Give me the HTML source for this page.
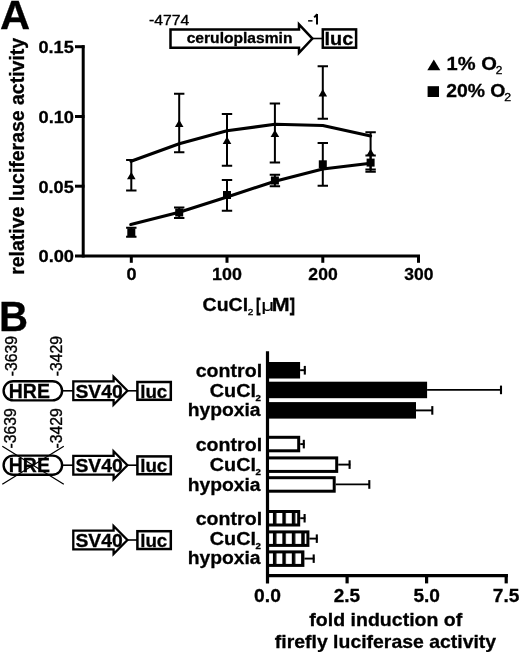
<!DOCTYPE html>
<html><head><meta charset="utf-8"><style>
html,body{margin:0;padding:0;background:#fff;}
svg{display:block;filter:grayscale(1);}
text{font-family:'Liberation Sans',sans-serif;fill:#000;font-kerning:none;}
.b{font-weight:bold;stroke:#000;stroke-width:0.3px;}
.r{font-weight:normal;stroke:#000;stroke-width:0.35px;}
</style></head><body>
<svg width="520" height="652" viewBox="0 0 520 652">
<rect width="520" height="652" fill="#fff"/>
<text x="-0.04" y="29.20" textLength="30.14" lengthAdjust="spacingAndGlyphs" class="b" style="font-size:41.0px">A</text>
<text transform="translate(24.00,274.78) rotate(-90)" x="0" y="0" textLength="236.89" lengthAdjust="spacingAndGlyphs" class="b" style="font-size:19.8px">relative luciferase activity</text>
<g stroke="#000" stroke-width="3" fill="none" stroke-linecap="butt">
<path d="M83.2,45.2 V257.5"/>
<path d="M75,256 H420"/>
<path d="M75,186.2 H84.5"/>
<path d="M75,116.5 H84.5"/>
<path d="M75,46.7 H84.5"/>
<path d="M131.3,255 V262.8"/>
<path d="M227.0,255 V262.8"/>
<path d="M322.8,255 V262.8"/>
<path d="M418.5,255 V262.8"/>
</g>
<text x="38.48" y="53.00" textLength="35.32" lengthAdjust="spacingAndGlyphs" class="b" style="font-size:17.0px">0.15</text>
<text x="38.48" y="122.77" textLength="35.57" lengthAdjust="spacingAndGlyphs" class="b" style="font-size:17.0px">0.10</text>
<text x="38.48" y="192.53" textLength="35.32" lengthAdjust="spacingAndGlyphs" class="b" style="font-size:17.0px">0.05</text>
<text x="38.48" y="262.30" textLength="35.57" lengthAdjust="spacingAndGlyphs" class="b" style="font-size:17.0px">0.00</text>
<text x="126.48" y="279.60" textLength="10.06" lengthAdjust="spacingAndGlyphs" class="b" style="font-size:17.4px">0</text>
<text x="212.11" y="279.60" textLength="29.86" lengthAdjust="spacingAndGlyphs" class="b" style="font-size:17.4px">100</text>
<text x="308.36" y="279.60" textLength="29.33" lengthAdjust="spacingAndGlyphs" class="b" style="font-size:17.4px">200</text>
<text x="404.30" y="279.60" textLength="29.12" lengthAdjust="spacingAndGlyphs" class="b" style="font-size:17.4px">300</text>
<text x="202.60" y="311.30" textLength="45.48" lengthAdjust="spacingAndGlyphs" class="b" style="font-size:18.8px">CuCl</text>
<text x="247.69" y="315.10" textLength="5.62" lengthAdjust="spacingAndGlyphs" class="r" style="font-size:9.5px">2</text>
<text x="256.22" y="311.30" textLength="4.03" lengthAdjust="spacingAndGlyphs" class="b" style="font-size:18.8px;stroke-width:1.0px">[</text>
<text x="261.28" y="311.30" textLength="12.96" lengthAdjust="spacingAndGlyphs" class="r" style="font-size:17.0px;stroke-width:0.1px">μ</text>
<text x="271.76" y="311.30" textLength="17.87" lengthAdjust="spacingAndGlyphs" class="b" style="font-size:18.8px">M</text>
<text x="290.12" y="311.30" textLength="4.78" lengthAdjust="spacingAndGlyphs" class="b" style="font-size:18.8px;stroke-width:1.0px">]</text>
<path d="M131.0,161.3 L179.2,143.8 L227.0,130.8 L275.0,124.3 L322.8,125.5 L370.6,136.0" stroke="#000" stroke-width="3.1" fill="none" stroke-linejoin="round" stroke-linecap="round"/>
<path d="M130.8,224.5 L179.2,212.3 L227.0,197.0 L275.0,181.2 L322.8,169.0 L370.6,163.3" stroke="#000" stroke-width="3.1" fill="none" stroke-linejoin="round" stroke-linecap="round"/>
<g stroke="#000" stroke-width="2" fill="none">
<path d="M131.3,160 V190.5 M126.1,160 H136.5 M126.1,190.5 H136.5"/>
<path d="M179.2,93.8 V152.2 M174.0,93.8 H184.4 M174.0,152.2 H184.4"/>
<path d="M227.0,113.9 V165.8 M221.8,113.9 H232.2 M221.8,165.8 H232.2"/>
<path d="M274.9,103.6 V162.5 M269.7,103.6 H280.1 M269.7,162.5 H280.1"/>
<path d="M322.8,66.2 V118.7 M317.6,66.2 H328.0 M317.6,118.7 H328.0"/>
<path d="M370.6,132.3 V171.7 M365.4,132.3 H375.8 M365.4,171.7 H375.8"/>
<path d="M131.3,227.8 V236.8 M126.1,227.8 H136.5 M126.1,236.8 H136.5"/>
<path d="M179.2,207.4 V218 M174.0,207.4 H184.4 M174.0,218 H184.4"/>
<path d="M227.0,180 V210.8 M221.8,180 H232.2 M221.8,210.8 H232.2"/>
<path d="M274.9,174.8 V186.3 M269.7,174.8 H280.1 M269.7,186.3 H280.1"/>
<path d="M322.8,142.9 V185.8 M317.6,142.9 H328.0 M317.6,185.8 H328.0"/>
<path d="M370.6,155.5 V169.5 M365.4,155.5 H375.8 M365.4,169.5 H375.8"/>
</g>
<path d="M127.0,179.2 L135.6,179.2 L131.3,171.9 Z" fill="#000"/>
<path d="M174.9,127.0 L183.5,127.0 L179.2,119.7 Z" fill="#000"/>
<path d="M222.7,143.9 L231.3,143.9 L227.0,136.6 Z" fill="#000"/>
<path d="M270.6,137.0 L279.2,137.0 L274.9,129.7 Z" fill="#000"/>
<path d="M318.5,96.4 L327.1,96.4 L322.8,89.1 Z" fill="#000"/>
<path d="M366.3,156.0 L374.9,156.0 L370.6,148.7 Z" fill="#000"/>
<rect x="127.3" y="228.3" width="8" height="8" fill="#000"/>
<rect x="175.2" y="208.5" width="8" height="8" fill="#000"/>
<rect x="223.0" y="191.0" width="8" height="8" fill="#000"/>
<rect x="270.9" y="176.5" width="8" height="8" fill="#000"/>
<rect x="318.8" y="160.3" width="8" height="8" fill="#000"/>
<rect x="366.6" y="158.6" width="8" height="8" fill="#000"/>
<path d="M427.3,70.3 L440.3,70.3 L433.8,59.6 Z" fill="#000"/>
<rect x="427.6" y="86.2" width="11.4" height="10.8" fill="#000"/>
<text x="446.64" y="70.20" textLength="50.21" lengthAdjust="spacingAndGlyphs" class="b" style="font-size:18.2px">1% O</text>
<text x="495.70" y="74.00" textLength="6.59" lengthAdjust="spacingAndGlyphs" class="r" style="font-size:10.9px">2</text>
<text x="446.23" y="97.10" textLength="59.18" lengthAdjust="spacingAndGlyphs" class="b" style="font-size:18.2px">20% O</text>
<text x="504.18" y="101.00" textLength="6.84" lengthAdjust="spacingAndGlyphs" class="r" style="font-size:10.9px">2</text>
<text x="149.00" y="24.90" textLength="40.36" lengthAdjust="spacingAndGlyphs" class="r" style="font-size:15.0px">-4774</text>
<rect x="308.1" y="20.1" width="4.4" height="1.5" fill="#000"/>
<path d="M317,13.9 V24.5 M314.2,17.4 L317.2,14.3" stroke="#000" stroke-width="2" fill="none"/>
<path d="M170.5,29.4 H299 V24.4 L312.4,38.6 L299,52.8 V47.7 H170.5 Z" stroke="#000" stroke-width="2.5" fill="none" stroke-linejoin="miter"/>
<path d="M313,38.5 H322" stroke="#000" stroke-width="1.6"/>
<rect x="322.8" y="29.4" width="33.3" height="18.3" stroke="#000" stroke-width="2.5" fill="none"/>
<text x="186.69" y="42.70" textLength="105.78" lengthAdjust="spacingAndGlyphs" class="b" style="font-size:14.6px">ceruloplasmin</text>
<text x="324.61" y="45.00" textLength="28.67" lengthAdjust="spacingAndGlyphs" class="b" style="font-size:17.6px">luc</text>
<text x="-0.99" y="330.80" textLength="29.01" lengthAdjust="spacingAndGlyphs" class="b" style="font-size:41.7px">B</text>
<text transform="translate(17.00,376.30) rotate(-90)" x="0" y="0" textLength="40.24" lengthAdjust="spacingAndGlyphs" class="r" style="font-size:16.0px">-3639</text><text transform="translate(61.60,376.30) rotate(-90)" x="0" y="0" textLength="40.24" lengthAdjust="spacingAndGlyphs" class="r" style="font-size:16.0px">-3429</text><rect x="3.6" y="381.2" width="58.5" height="19.2" rx="9.6" ry="9.6" stroke="#000" stroke-width="2.4" fill="none"/><text x="8.80" y="397.60" textLength="41.06" lengthAdjust="spacingAndGlyphs" class="b" style="font-size:19.5px">HRE</text><path d="M63,390.8 H73" stroke="#000" stroke-width="1.6"/><path d="M73.3,381.4 H113.6 V376.8 L127.4,390.8 L113.6,404.8 V400.2 H73.3 Z" stroke="#000" stroke-width="2.3" fill="none" stroke-linejoin="miter"/><text x="75.44" y="397.80" textLength="47.25" lengthAdjust="spacingAndGlyphs" class="b" style="font-size:19.0px">SV40</text><path d="M128,390.8 H137" stroke="#000" stroke-width="1.6"/><rect x="137.4" y="382.0" width="33.4" height="17.8" stroke="#000" stroke-width="2.5" fill="none"/><text x="140.19" y="397.80" textLength="27.06" lengthAdjust="spacingAndGlyphs" class="b" style="font-size:18.6px">luc</text>
<text transform="translate(16.40,448.40) rotate(-90)" x="0" y="0" textLength="40.24" lengthAdjust="spacingAndGlyphs" class="r" style="font-size:16.0px">-3639</text><text transform="translate(61.50,448.40) rotate(-90)" x="0" y="0" textLength="40.24" lengthAdjust="spacingAndGlyphs" class="r" style="font-size:16.0px">-3429</text><rect x="3.6" y="455.6" width="58.5" height="19.2" rx="9.6" ry="9.6" stroke="#000" stroke-width="2.4" fill="none"/><text x="8.80" y="472.00" textLength="41.06" lengthAdjust="spacingAndGlyphs" class="b" style="font-size:19.5px">HRE</text><path d="M63,465.2 H73" stroke="#000" stroke-width="1.6"/><path d="M2.3,446.2 L63.8,484.2 M63.8,446.2 L2.3,484.2" stroke="#000" stroke-width="1.3"/><path d="M73.3,455.8 H113.6 V451.2 L127.4,465.2 L113.6,479.2 V474.6 H73.3 Z" stroke="#000" stroke-width="2.3" fill="none" stroke-linejoin="miter"/><text x="75.44" y="472.20" textLength="47.25" lengthAdjust="spacingAndGlyphs" class="b" style="font-size:19.0px">SV40</text><path d="M128,465.2 H137" stroke="#000" stroke-width="1.6"/><rect x="137.4" y="456.4" width="33.4" height="17.8" stroke="#000" stroke-width="2.5" fill="none"/><text x="140.19" y="472.20" textLength="27.06" lengthAdjust="spacingAndGlyphs" class="b" style="font-size:18.6px">luc</text>
<path d="M73.3,530.6 H113.6 V526.0 L127.4,540 L113.6,554.0 V549.4 H73.3 Z" stroke="#000" stroke-width="2.3" fill="none" stroke-linejoin="miter"/><text x="75.44" y="547.00" textLength="47.25" lengthAdjust="spacingAndGlyphs" class="b" style="font-size:19.0px">SV40</text><path d="M128,540 H137" stroke="#000" stroke-width="1.6"/><rect x="137.4" y="531.2" width="33.4" height="17.8" stroke="#000" stroke-width="2.5" fill="none"/><text x="140.19" y="547.00" textLength="27.06" lengthAdjust="spacingAndGlyphs" class="b" style="font-size:18.6px">luc</text>
<g stroke="#000" stroke-width="3.2" fill="none">
<path d="M267.5,351.2 V583.4"/>
<path d="M266,575.7 H507.9"/>
<path d="M347.1,574 V583.4"/>
<path d="M426.6,574 V583.4"/>
<path d="M506.2,574 V583.4"/>
</g>
<text x="254.14" y="601.80" textLength="26.75" lengthAdjust="spacingAndGlyphs" class="b" style="font-size:18.4px">0.0</text>
<text x="333.81" y="601.80" textLength="26.39" lengthAdjust="spacingAndGlyphs" class="b" style="font-size:18.4px">2.5</text>
<text x="413.45" y="601.80" textLength="26.57" lengthAdjust="spacingAndGlyphs" class="b" style="font-size:18.4px">5.0</text>
<text x="492.78" y="601.80" textLength="26.55" lengthAdjust="spacingAndGlyphs" class="b" style="font-size:18.4px">7.5</text>
<text x="309.37" y="625.60" textLength="152.90" lengthAdjust="spacingAndGlyphs" class="b" style="font-size:18.6px">fold induction of</text>
<text x="274.87" y="647.60" textLength="221.24" lengthAdjust="spacingAndGlyphs" class="b" style="font-size:18.6px">firefly luciferase activity</text>
<defs><pattern id="st" patternUnits="userSpaceOnUse" x="0" y="0" width="9.45" height="40" patternTransform="translate(272.9,0)"><rect x="0" y="0" width="3.5" height="40" fill="#000"/></pattern></defs>
<path d="M300.1,370.2 H305.5" stroke="#000" stroke-width="1.9" fill="none"/>
<path d="M304.8,365.9 V374.6" stroke="#000" stroke-width="2.1" fill="none"/>
<rect x="268" y="362.0" width="32.1" height="16.5" fill="#000"/>
<text x="195.74" y="376.90" textLength="66.35" lengthAdjust="spacingAndGlyphs" class="b" style="font-size:19.2px">control</text>
<path d="M427.1,389.9 H501.7" stroke="#000" stroke-width="1.9" fill="none"/>
<path d="M501.0,385.6 V394.2" stroke="#000" stroke-width="2.1" fill="none"/>
<rect x="268" y="381.7" width="159.1" height="16.5" fill="#000"/>
<text x="209.79" y="396.90" textLength="46.21" lengthAdjust="spacingAndGlyphs" class="b" style="font-size:19.2px">CuCl</text>
<text x="255.56" y="401.00" textLength="5.43" lengthAdjust="spacingAndGlyphs" class="b" style="font-size:9.4px">2</text>
<path d="M416.0,410.4 H433.0" stroke="#000" stroke-width="1.9" fill="none"/>
<path d="M432.3,406.1 V414.7" stroke="#000" stroke-width="2.1" fill="none"/>
<rect x="268" y="402.1" width="148.0" height="16.5" fill="#000"/>
<text x="187.65" y="415.70" textLength="72.92" lengthAdjust="spacingAndGlyphs" class="b" style="font-size:19.2px">hypoxia</text>
<path d="M300.2,444.1 H304.5" stroke="#000" stroke-width="1.9" fill="none"/>
<path d="M303.8,439.8 V448.4" stroke="#000" stroke-width="2.1" fill="none"/>
<rect x="267.5" y="437.30" width="31.2" height="13.5" stroke="#000" stroke-width="3.0" fill="#fff"/>
<text x="195.74" y="451.20" textLength="66.35" lengthAdjust="spacingAndGlyphs" class="b" style="font-size:19.2px">control</text>
<path d="M338.2,464.6 H350.3" stroke="#000" stroke-width="1.9" fill="none"/>
<path d="M349.6,460.3 V468.9" stroke="#000" stroke-width="2.1" fill="none"/>
<rect x="267.5" y="457.90" width="69.2" height="13.5" stroke="#000" stroke-width="3.0" fill="#fff"/>
<text x="209.79" y="471.30" textLength="46.21" lengthAdjust="spacingAndGlyphs" class="b" style="font-size:19.2px">CuCl</text>
<text x="255.56" y="475.40" textLength="5.43" lengthAdjust="spacingAndGlyphs" class="b" style="font-size:9.4px">2</text>
<path d="M335.7,484.4 H370.0" stroke="#000" stroke-width="1.9" fill="none"/>
<path d="M369.3,480.1 V488.8" stroke="#000" stroke-width="2.1" fill="none"/>
<rect x="267.5" y="477.70" width="66.7" height="13.5" stroke="#000" stroke-width="3.0" fill="#fff"/>
<text x="187.65" y="490.50" textLength="72.92" lengthAdjust="spacingAndGlyphs" class="b" style="font-size:19.2px">hypoxia</text>
<path d="M300.2,518.2 H305.3" stroke="#000" stroke-width="1.9" fill="none"/>
<path d="M304.6,514.0 V522.5" stroke="#000" stroke-width="2.1" fill="none"/>
<rect x="267.5" y="511.50" width="31.2" height="13.5" stroke="#000" stroke-width="3.0" fill="url(#st)"/>
<text x="195.74" y="525.00" textLength="66.35" lengthAdjust="spacingAndGlyphs" class="b" style="font-size:19.2px">control</text>
<path d="M309.4,538.6 H317.5" stroke="#000" stroke-width="1.9" fill="none"/>
<path d="M316.8,534.4 V542.9" stroke="#000" stroke-width="2.1" fill="none"/>
<rect x="267.5" y="531.90" width="40.4" height="13.5" stroke="#000" stroke-width="3.0" fill="url(#st)"/>
<text x="209.79" y="545.30" textLength="46.21" lengthAdjust="spacingAndGlyphs" class="b" style="font-size:19.2px">CuCl</text>
<text x="255.56" y="549.40" textLength="5.43" lengthAdjust="spacingAndGlyphs" class="b" style="font-size:9.4px">2</text>
<path d="M304.4,558.6 H314.4" stroke="#000" stroke-width="1.9" fill="none"/>
<path d="M313.7,554.4 V562.9" stroke="#000" stroke-width="2.1" fill="none"/>
<rect x="267.5" y="551.90" width="35.4" height="13.5" stroke="#000" stroke-width="3.0" fill="url(#st)"/>
<text x="187.65" y="564.10" textLength="72.92" lengthAdjust="spacingAndGlyphs" class="b" style="font-size:19.2px">hypoxia</text>
</svg>
</body></html>
